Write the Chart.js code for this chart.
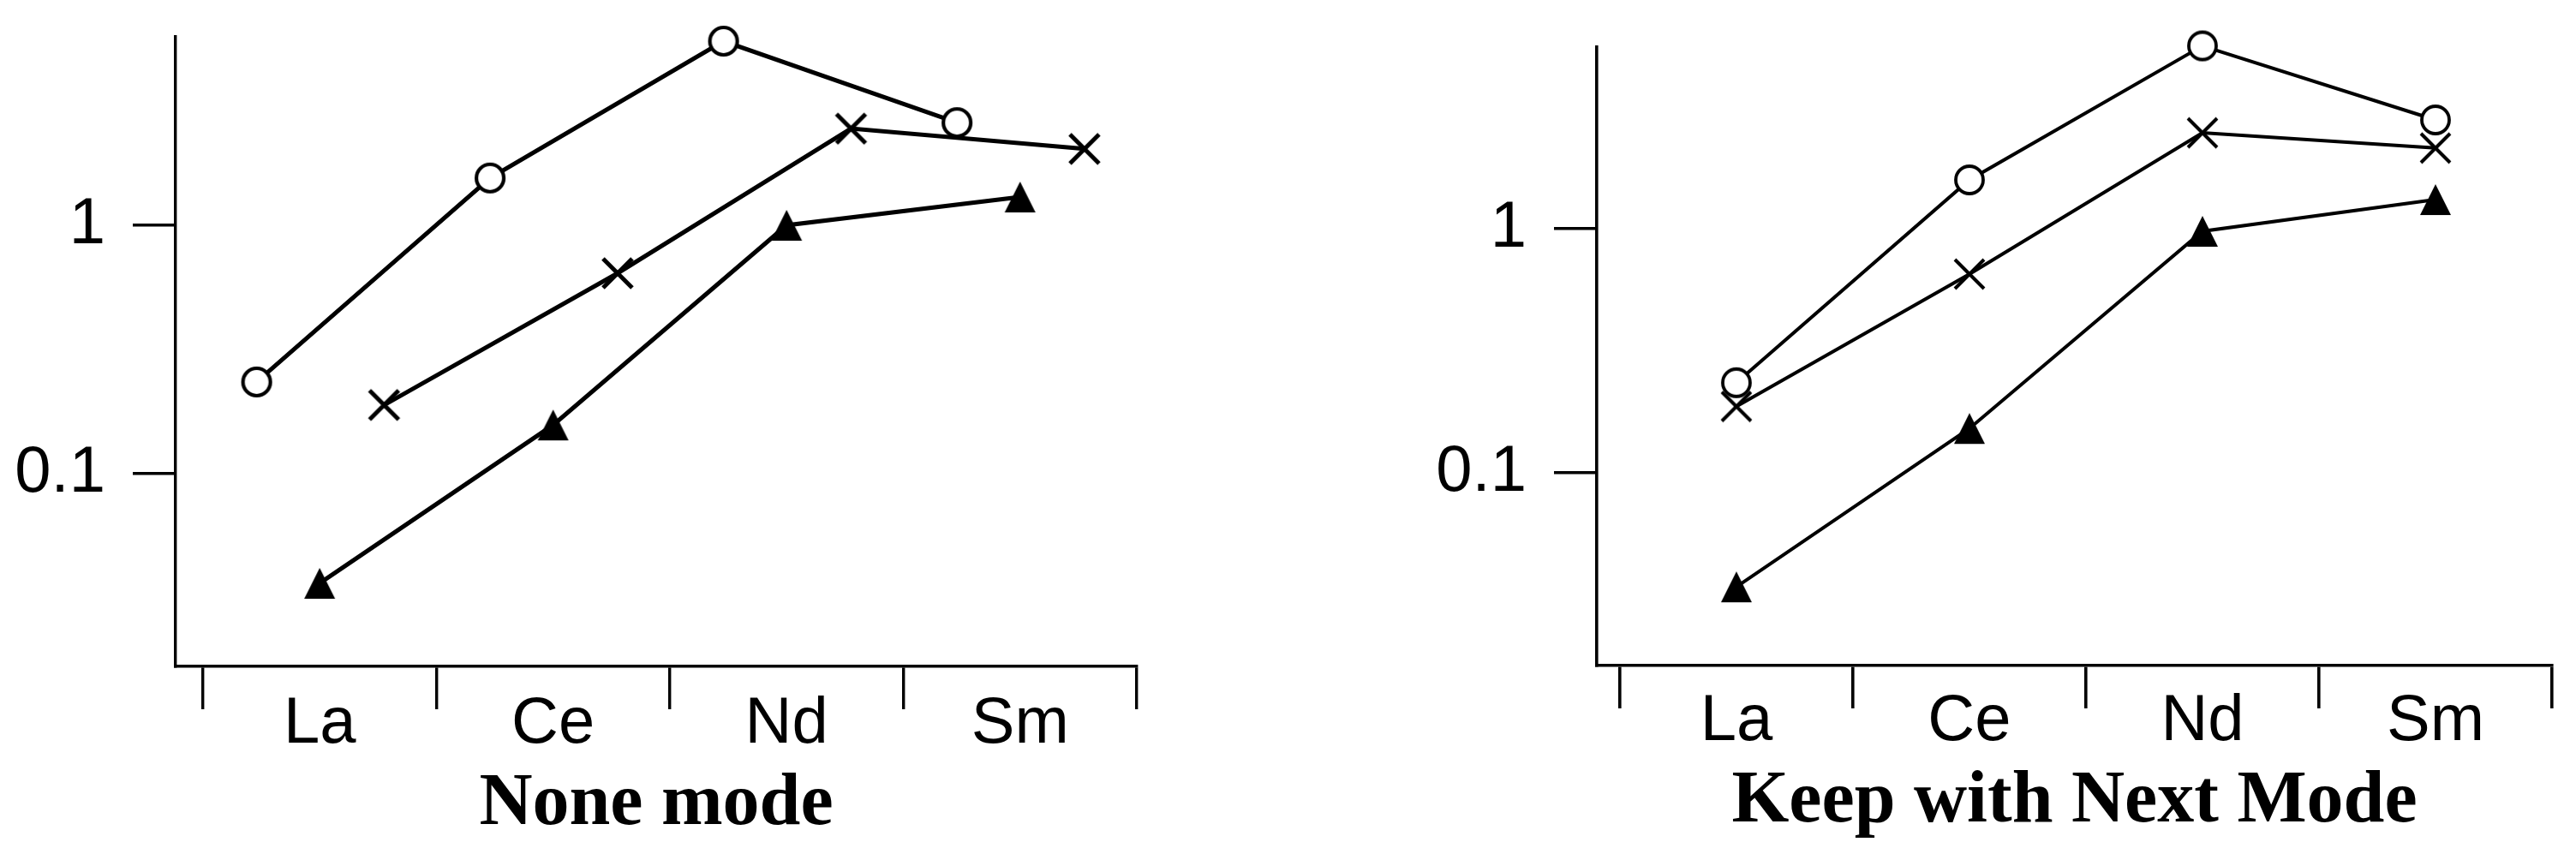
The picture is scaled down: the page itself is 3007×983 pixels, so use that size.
<!DOCTYPE html>
<html><head><meta charset="utf-8">
<script src="https://cdn.jsdelivr.net/npm/chart.js@4.4.0/dist/chart.umd.min.js"></script>
<style>
html,body{margin:0;padding:0;background:#fff;width:3007px;height:983px;overflow:hidden}
canvas{position:absolute;top:0}
#c1{left:0}
#c2{left:1500px}
</style></head><body>
<canvas id="c1" width="1500" height="983"></canvas>
<canvas id="c2" width="1507" height="983"></canvas>
<script>
// ---- data ----
const categories = ['La', 'Ce', 'Nd', 'Sm'];
const yTickValues = [0.1, 1];

// Panel 1: "None mode"
const noneCircle   = [0.234, 1.55, 5.51, 2.59];
const noneCross    = [0.189, 0.641, 2.45, 2.03];
const noneTriangle = [0.0362, 0.157, 1.0, 1.30];

// Panel 2: "Keep with Next Mode"
const keepCircle   = [0.234, 1.585, 5.61, 2.79];
const keepCross    = [0.187, 0.652, 2.47, 2.14];
const keepTriangle = [0.0341, 0.152, 0.976, 1.316];

const panelTitles = ['None mode', 'Keep with Next Mode'];

// ---- styling helpers ----
function marker(kind, lw) {
  const c = document.createElement('canvas');
  c.width = 40; c.height = 40;
  const g = c.getContext('2d');
  g.strokeStyle = '#000'; g.fillStyle = '#000'; g.lineWidth = lw;
  if (kind === 'circle') {
    g.beginPath(); g.arc(20, 20, 16, 0, Math.PI * 2);
    g.fillStyle = '#fff'; g.fill(); g.stroke();
  } else if (kind === 'triangle') {
    g.beginPath(); g.moveTo(20, 2); g.lineTo(38, 38); g.lineTo(2, 38); g.closePath(); g.fill();
  } else {
    g.beginPath(); g.moveTo(3, 3); g.lineTo(37, 37); g.moveTo(37, 3); g.lineTo(3, 37); g.stroke();
  }
  return c;
}

const SANS = "'Liberation Sans', Arial, Helvetica, sans-serif";
const SERIF = "'Liberation Serif', 'Times New Roman', serif";

function makeChart(id, p) {
  const ds = (vals, kind, off, mw) => ({
    data: vals.map((v, i) => ({ x: i + off, y: v })),
    borderColor: '#000', borderWidth: p.lineW, tension: 0, fill: false,
    pointStyle: marker(kind, mw), pointRadius: 18, pointHoverRadius: 18, clip: false
  });
  const gridOpts = { offset: true, drawOnChartArea: false, drawTicks: true, tickLength: 50, color: '#000', lineWidth: p.axisW };
  return new Chart(document.getElementById(id), {
    type: 'line',
    data: {
      datasets: [
        ds(p.circle, 'circle', p.offC, p.circW),
        ds(p.cross, 'cross', p.offX, p.crossW),
        ds(p.tri, 'triangle', 0, 1)
      ]
    },
    options: {
      responsive: false, animation: false, devicePixelRatio: 1,
      events: [],
      layout: { autoPadding: false, padding: { left: p.padL, right: p.padR, top: p.padT, bottom: 0 } },
      plugins: {
        legend: { display: false }, tooltip: { enabled: false },
        title: {
          display: true, text: p.title, position: 'bottom', fullSize: false, color: '#000',
          font: { family: SERIF, weight: 'bold', size: 86, lineHeight: 1 },
          padding: { top: 8, bottom: p.titleBottom }
        }
      },
      scales: {
        x: {
          type: 'linear', min: p.xMin, max: 3.5001, bounds: 'data',
          afterBuildTicks: s => { s.ticks = categories.map((c, i) => ({ value: i })); },
          afterFit: s => { s.height = p.xH; s.paddingLeft = 0; s.paddingRight = 0; },
          ticks: {
            callback: (v) => categories[Math.round(v)], padding: p.xPad, color: '#000',
            autoSkip: false, maxRotation: 0, minRotation: 0,
            font: { family: SANS, size: 76 }
          },
          grid: gridOpts,
          border: { display: true, color: '#000', width: p.axisW }
        },
        y: {
          type: 'logarithmic', min: p.yMin, max: p.yMax, bounds: 'data',
          afterBuildTicks: s => { s.ticks = yTickValues.map(v => ({ value: v })); },
          afterFit: s => { s.width = 185; s.paddingTop = 0; s.paddingBottom = 0; },
          ticks: {
            callback: (v) => String(v), padding: 32, color: '#000', autoSkip: false,
            font: { family: SANS, size: 76 }
          },
          grid: Object.assign({}, gridOpts, { offset: false }),
          border: { display: true, color: '#000', width: p.axisW }
        }
      }
    }
  });
}

makeChart('c1', {
  title: panelTitles[0], circle: noneCircle, cross: noneCross, tri: noneTriangle,
  offC: -0.27, offX: 0.276,
  lineW: 5, circW: 4.2, crossW: 5, axisW: 3.4,
  padL: 20, padR: 173, padT: 43, titleBottom: 0, xH: 111, xPad: -28,
  xMin: -0.617, yMin: 0.01675, yMax: 5.736
});

makeChart('c2', {
  title: panelTitles[1], circle: keepCircle, cross: keepCross, tri: keepTriangle,
  offC: 0, offX: 0,
  lineW: 4, circW: 3.8, crossW: 4, axisW: 3.6,
  padL: 179, padR: 28, padT: 55, titleBottom: 3, xH: 109, xPad: -30,
  xMin: -0.599, yMin: 0.01624, yMax: 5.545
});
</script>
</body></html>
